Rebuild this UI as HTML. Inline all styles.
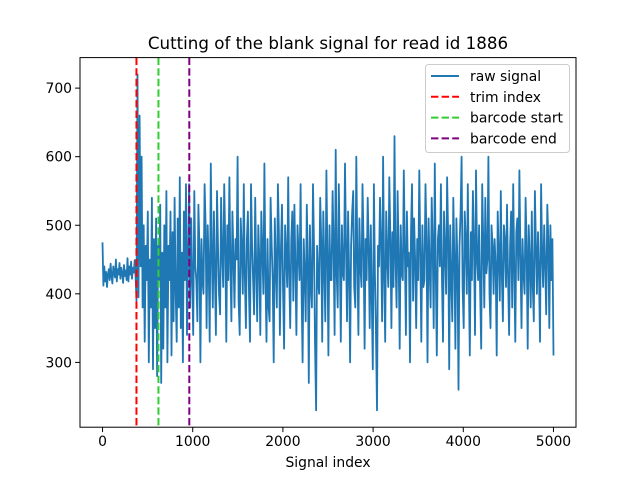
<!DOCTYPE html>
<html><head><meta charset="utf-8"><style>
body{margin:0;background:#fff}
svg text{font-family:"DejaVu Sans","Liberation Sans",sans-serif;fill:#000}
</style></head><body>
<svg id="chart" width="640" height="480" xmlns="http://www.w3.org/2000/svg">
<rect width="640" height="480" fill="#fff"/>
<text x="328" y="49" font-size="16.7" text-anchor="middle">Cutting of the blank signal for read id 1886</text>
<g id="plot"></g>
<rect x="80" y="57.6" width="496" height="369.6" fill="none" stroke="#000" stroke-width="1"/>
<g id="ticks"></g>
<text x="328" y="467" font-size="13.9" text-anchor="middle">Signal index</text>
<g>
<rect x="425.5" y="64.5" width="144" height="88" rx="3" fill="#fff" fill-opacity="0.8" stroke="#ccc"/>
<g id="legend-items"></g>
</g>
</svg>
<script>
const preTrimValues=[475,412,440,418,432,410,428,436,420,444,426,415,440,432,424,450,418,436,428,445,
422,438,430,416,442,426,434,420,452,418,440,428,447,422,438,431,449,425];
const postTrimValues=[390,720,395,660,440,600,380,500,330,470,420,520,300,450,380,540,290,480,350,510,280,470,420,
530,270,460,320,500,380,550,300,470,420,520,310,490,360,540,400,330,510,380,570,350,460,300,520,420,560,340,
460,560,380,510,420,340,550,440,420,360,530,470,300,480,420,400,560,500,350,500,440,330,590,460,380,520,
430,340,550,470,400,370,540,460,410,560,480,330,500,420,570,440,360,520,450,380,480,450,600,390,340,510,
470,400,560,430,350,480,520,400,330,560,470,420,370,540,440,360,500,450,340,520,460,400,590,420,330,480,
380,360,540,470,420,300,510,440,380,560,490,340,470,530,410,320,500,460,410,570,430,350,480,520,390,530,
440,340,500,460,420,560,400,300,480,430,360,530,450,270,500,410,380,560,470,330,230,470,420,400,540,480,
330,520,440,360,580,460,310,500,420,420,550,470,340,610,430,380,560,460,330,500,430,420,590,470,360,520,
430,300,470,520,550,410,380,600,460,340,510,440,410,560,480,320,480,420,540,470,350,500,390,290,560,430,
350,230,470,440,540,470,360,600,420,330,520,450,410,570,480,350,490,410,630,450,380,550,460,320,500,430,
420,580,470,340,520,440,460,300,490,560,390,510,450,350,480,420,580,460,330,500,410,420,560,480,300,510,
440,380,540,470,350,590,430,310,480,500,440,560,420,330,520,460,400,570,480,290,500,420,360,540,450,320,
510,440,260,470,520,600,410,350,520,480,400,560,430,310,490,420,550,470,340,580,450,420,500,400,320,560,
470,380,540,430,450,600,400,350,500,470,400,480,440,310,520,460,390,550,430,360,500,480,410,530,430,340,
470,520,380,560,440,330,490,510,420,580,460,350,480,430,400,540,470,320,500,450,380,520,410,360,550,470,
400,490,430,330,560,460,410,500,440,370,530,480,350,500,420,480,310];
const signalLength=5000;
const markerNames=["trim index","barcode start","barcode end"];
const markerPositions=[376,620,962];
const markerColors=["#ff0000","#32cd32","#800080"];
const xTicks=[0,1000,2000,3000,4000,5000];
const yTicks=[300,400,500,600,700];
const NS="http://www.w3.org/2000/svg";
const X0=80,X1=576,Y0=427.2,Y1=57.6,xmin=-250,xmax=5250,ymin=205.5,ymax=744.5;
const sx=v=>X0+(v-xmin)/(xmax-xmin)*(X1-X0);
const sy=v=>Y0-(v-ymin)/(ymax-ymin)*(Y0-Y1);
const plot=document.getElementById('plot');
const trimAt=markerPositions[0];
const pts=[];
preTrimValues.forEach((v,i)=>pts.push([i*trimAt/(preTrimValues.length),v]));
postTrimValues.forEach((v,i)=>pts.push([trimAt+i*(signalLength-trimAt)/(postTrimValues.length-1),v]));
let d=pts.map((p,i)=>(i?'L':'M')+sx(p[0]).toFixed(1)+','+sy(p[1]).toFixed(1)).join('');
const line=document.createElementNS(NS,'path');
line.setAttribute('d',d);line.setAttribute('fill','none');line.setAttribute('stroke','#1f77b4');line.setAttribute('stroke-width','1.8');line.setAttribute('stroke-linejoin','round');


plot.appendChild(line);
markerPositions.forEach((p,i)=>{
 const l=document.createElementNS(NS,'line');
 l.setAttribute('x1',sx(p));l.setAttribute('x2',sx(p));l.setAttribute('y1',Y1);l.setAttribute('y2',Y0);
 l.setAttribute('stroke',markerColors[i]);l.setAttribute('stroke-width','2');l.setAttribute('stroke-dasharray','7.4,3.2');
 
 
 plot.appendChild(l);
});
const tg=document.getElementById('ticks');
xTicks.forEach(t=>{
 const l=document.createElementNS(NS,'line');l.setAttribute('x1',sx(t));l.setAttribute('x2',sx(t));l.setAttribute('y1',Y0);l.setAttribute('y2',Y0+4.9);l.setAttribute('stroke','#000');
 
 
 tg.appendChild(l);
 const tx=document.createElementNS(NS,'text');tx.setAttribute('x',sx(t));tx.setAttribute('y',Y0+19);tx.setAttribute('font-size','13.9');tx.setAttribute('text-anchor','middle');tx.textContent=t;
 
 
 tg.appendChild(tx);
});
yTicks.forEach(t=>{
 const l=document.createElementNS(NS,'line');l.setAttribute('x1',X0-4.9);l.setAttribute('x2',X0);l.setAttribute('y1',sy(t));l.setAttribute('y2',sy(t));l.setAttribute('stroke','#000');
 
 
 tg.appendChild(l);
 const tx=document.createElementNS(NS,'text');tx.setAttribute('x',X0-8);tx.setAttribute('y',sy(t)+5);tx.setAttribute('font-size','13.9');tx.setAttribute('text-anchor','end');tx.textContent=t;
 
 
 tg.appendChild(tx);
});
const lg=document.getElementById('legend-items');
const names=["raw signal"].concat(markerNames),cols=["#1f77b4"].concat(markerColors);
names.forEach((nm,i)=>{
 const y=76+i*20.8;
 const l=document.createElementNS(NS,'line');l.setAttribute('x1',431);l.setAttribute('x2',459);l.setAttribute('y1',y);l.setAttribute('y2',y);l.setAttribute('stroke',cols[i]);l.setAttribute('stroke-width','2');
 if(i)l.setAttribute('stroke-dasharray','7.4,3.2');
 
 
 lg.appendChild(l);
 const tx=document.createElementNS(NS,'text');tx.setAttribute('x',470);tx.setAttribute('y',y+5);tx.setAttribute('font-size','13.9');tx.textContent=nm;
 
 
 lg.appendChild(tx);
});
</script>
</body></html>
